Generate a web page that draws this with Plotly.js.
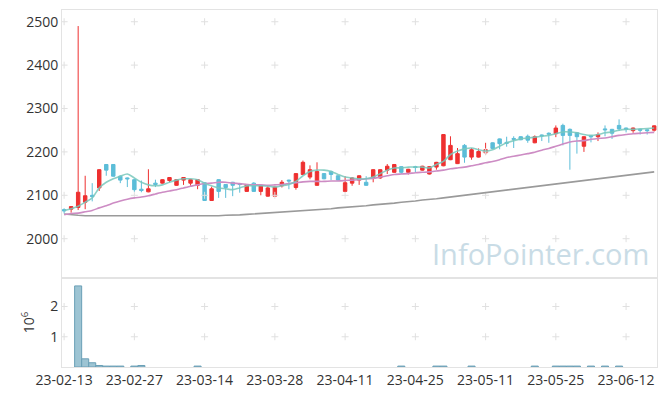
<!DOCTYPE html>
<html><head><meta charset="utf-8">
<script src="https://cdn.plot.ly/plotly-3.0.1.min.js"></script>
<style>html,body{margin:0;padding:0;background:#fff}#c{width:665px;height:396px}</style>
</head><body><div id="c"></div>
<script>
const dates = ['23-02-13','23-02-14','23-02-15','23-02-16','23-02-17','23-02-20','23-02-21','23-02-22','23-02-23','23-02-24',
'23-02-27','23-02-28','23-03-02','23-03-03','23-03-06','23-03-07','23-03-08','23-03-09','23-03-10','23-03-13',
'23-03-14','23-03-15','23-03-16','23-03-17','23-03-20','23-03-21','23-03-22','23-03-23','23-03-24','23-03-27',
'23-03-28','23-03-29','23-03-30','23-03-31','23-04-03','23-04-04','23-04-05','23-04-06','23-04-07','23-04-10',
'23-04-11','23-04-12','23-04-13','23-04-14','23-04-17','23-04-18','23-04-19','23-04-20','23-04-21','23-04-24',
'23-04-25','23-04-26','23-04-27','23-04-28','23-05-02','23-05-03','23-05-04','23-05-08','23-05-09','23-05-10',
'23-05-11','23-05-12','23-05-15','23-05-16','23-05-17','23-05-18','23-05-19','23-05-22','23-05-23','23-05-24',
'23-05-25','23-05-26','23-05-30','23-05-31','23-06-01','23-06-02','23-06-05','23-06-07','23-06-08','23-06-09',
'23-06-12','23-06-13','23-06-14','23-06-15','23-06-16'];

const open  = [2067,2068,2072,2084,2100,2117,2171,2171,2144,2140,2136,2114,2108,2128,2128,2134,2123,2135,2128,2123,
2129,2088,2136,2125,2130,2127,2109,2128,2109,2098,2098,2122,2135,2118,2148,2142,2123,2150,2155,2145,
2109,2128,2135,2130,2141,2140,2158,2153,2166,2153,2166,2158,2149,2165,2168,2182,2173,2215,2188,2188,
2198,2221,2230,2222,2231,2235,2236,2221,2239,2243,2242,2261,2252,2244,2213,2237,2235,2253,2252,2261,
2255,2249,2252,2251,2250];
const high  = [2070,2075,2490,2145,2128,2160,2172,2172,2146,2141,2138,2134,2160,2136,2137,2142,2137,2142,2137,2137,
2130,2120,2137,2126,2131,2128,2126,2130,2125,2122,2120,2135,2136,2151,2180,2169,2176,2151,2157,2146,
2144,2142,2146,2144,2160,2160,2172,2172,2167,2161,2168,2168,2167,2177,2241,2236,2209,2218,2209,2208,
2221,2222,2231,2235,2236,2236,2240,2238,2240,2245,2261,2265,2254,2246,2236,2238,2245,2261,2253,2275,
2256,2256,2253,2252,2261];
const low   = [2058,2060,2066,2068,2086,2110,2145,2143,2128,2119,2108,2107,2107,2119,2127,2130,2122,2124,2122,2114,
2087,2087,2094,2094,2098,2106,2108,2108,2100,2097,2097,2118,2114,2113,2147,2137,2122,2137,2135,2134,
2107,2122,2124,2122,2130,2138,2149,2152,2149,2148,2153,2157,2148,2159,2167,2181,2172,2175,2182,2187,
2193,2207,2206,2212,2209,2227,2221,2220,2225,2221,2234,2215,2159,2196,2200,2222,2225,2236,2230,2248,
2245,2244,2240,2240,2247];
const close = [2064,2074,2107,2099,2097,2159,2158,2144,2135,2138,2113,2111,2115,2125,2136,2141,2136,2141,2136,2136,
2088,2115,2109,2118,2123,2125,2125,2109,2123,2117,2119,2130,2133,2150,2176,2159,2155,2138,2148,2135,
2129,2140,2145,2123,2159,2159,2167,2171,2153,2160,2164,2167,2166,2176,2240,2215,2196,2188,2205,2201,
2205,2208,2219,2220,2229,2228,2227,2235,2237,2241,2255,2238,2238,2235,2235,2235,2240,2251,2243,2253,
2252,2255,2250,2249,2260];

const ma5  = [2065,2069,2075,2084,2094,2117,2130,2138,2144,2149,2140,2130,2124,2122,2124,2130,2135,2138,2138,2136,
2128,2122,2117,2115,2113,2117,2122,2122,2122,2121,2119,2122,2125,2132,2145,2155,2158,2158,2155,2148,
2142,2140,2138,2138,2142,2150,2158,2163,2163,2165,2165,2165,2163,2171,2178,2194,2202,2207,2209,2205,
2202,2205,2213,2221,2226,2230,2232,2234,2236,2238,2242,2246,2246,2244,2240,2238,2240,2244,2246,2250,
2252,2252,2253,2254,2255];
const ma20 = [2055,2058,2059,2062,2065,2071,2076,2082,2087,2091,2094,2096,2099,2103,2107,2110,2113,2117,2121,2124,
2127,2128,2130,2130,2128,2127,2125,2124,2124,2123,2124,2125,2127,2129,2131,2132,2132,2132,2133,2133,
2134,2135,2136,2138,2139,2142,2145,2148,2149,2150,2152,2153,2154,2156,2158,2161,2163,2165,2168,2171,
2175,2178,2182,2187,2190,2193,2196,2199,2204,2208,2213,2218,2223,2225,2226,2229,2231,2232,2235,2238,
2240,2242,2243,2244,2245];
const ma120 = [2057,2055,2054,2053,2053,2052,2052,2052,2052,2052,2052,2052,2052,2052,2052,2052,2052,2052,2052,2052,
2052,2053,2053,2054,2054,2055,2056,2057,2058,2059,2060,2061,2062,2063,2064,2065,2067,2068,2069,2071,
2072,2073,2075,2076,2078,2079,2081,2082,2084,2085,2087,2089,2090,2092,2094,2096,2098,2100,2102,2104,
2106,2108,2110,2112,2114,2116,2118,2120,2122,2124,2126,2128,2130,2132,2134,2136,2138,2140,2142,2144,
2146,2148,2150,2152,2154];

const volume = [0,0,2680000,270000,140000,50000,30000,30000,30000,0,30000,50000,0,0,0,0,0,0,0,30000,
0,0,0,0,0,0,0,0,0,0,0,0,0,0,0,0,0,0,0,0,
0,0,0,0,0,0,0,0,30000,0,0,0,0,30000,30000,0,0,0,30000,0,
0,0,0,0,0,0,0,30000,0,0,30000,30000,30000,30000,0,30000,0,30000,0,30000,
0,0,0,0,0];

const priceTicks = [2000,2100,2200,2300,2400,2500];
const volTicks = [1000000,2000000];
const volTickText = ['1','2'];
const xTickIdx = [0,10,20,30,40,50,60,70,80];
const xTicks = xTickIdx.map(i => dates[i]);

const gridCol = '#e0e0e0';
const font = {family:'"Open Sans", "Noto Sans", sans-serif', size:14, color:'#333'};

const crossX1=[], crossY1=[], crossX2=[], crossY2=[];
xTicks.forEach(x => { priceTicks.forEach(y => {crossX1.push(x); crossY1.push(y);}); volTicks.forEach(y => {crossX2.push(x); crossY2.push(y);}); });

const traces = [
  {type:'scatter', mode:'markers', x:crossX1, y:crossY1, xaxis:'x2', yaxis:'y', hoverinfo:'skip',
   marker:{symbol:'cross-thin-open', size:5, color:gridCol, line:{width:1, color:gridCol}}},
  {type:'scatter', mode:'markers', x:crossX2, y:crossY2, xaxis:'x', yaxis:'y2', hoverinfo:'skip',
   marker:{symbol:'cross-thin-open', size:5, color:gridCol, line:{width:1, color:gridCol}}},
  {type:'scatter', mode:'lines', x:dates, y:ma120, xaxis:'x2', yaxis:'y', hoverinfo:'skip',
   line:{color:'#9a9a9a', width:1.6}},
  {type:'scatter', mode:'lines', x:dates, y:ma20, xaxis:'x2', yaxis:'y', hoverinfo:'skip',
   line:{color:'#cd8cc4', width:1.6, shape:'spline', smoothing:0.6}},
  {type:'candlestick', x:dates, open:open, high:high, low:low, close:close, xaxis:'x2', yaxis:'y',
   increasing:{line:{color:'#ee3030', width:1}, fillcolor:'#ee3030'},
   decreasing:{line:{color:'#5cbdd8', width:1}, fillcolor:'#5cbdd8'},
   whiskerwidth:0, hoverinfo:'skip'},
  {type:'scatter', mode:'lines', x:dates, y:ma5, xaxis:'x2', yaxis:'y', hoverinfo:'skip',
   line:{color:'rgba(120,200,188,0.85)', width:1.6, shape:'spline', smoothing:0.8}},
  {type:'bar', x:dates, y:volume, xaxis:'x', yaxis:'y2', hoverinfo:'skip',
   marker:{color:'#9dc4d3', line:{color:'#6a9fb6', width:volume.map(v => v > 0 ? 1 : 0)}}}
];

const xr = [-0.3, 84.4];
const layout = {
  width:665, height:396, showlegend:false,
  margin:{l:62, r:8, t:10, b:29},
  paper_bgcolor:'#fff', plot_bgcolor:'#fff',
  font:font, bargap:0,
  xaxis:{type:'category', categoryorder:'array', categoryarray:dates, range:xr, anchor:'y2',
    tickmode:'array', tickvals:xTicks, ticktext:xTicks, ticks:'', showgrid:false, zeroline:false,
    showline:true, mirror:true, linecolor:'#e3e3e3', linewidth:1, tickfont:font, rangeslider:{visible:false}},
  xaxis2:{type:'category', categoryorder:'array', categoryarray:dates, range:xr, anchor:'y', matches:'x',
    showticklabels:false, ticks:'', showgrid:false, zeroline:false,
    showline:true, mirror:true, linecolor:'#e3e3e3', linewidth:1, rangeslider:{visible:false}},
  yaxis:{domain:[0.25,1], range:[1910,2527], tickmode:'array', tickvals:priceTicks, showgrid:false, zeroline:false,
    showline:true, mirror:true, linecolor:'#e3e3e3', ticks:'', tickfont:font},
  yaxis2:{domain:[0,0.25], range:[0,2950000], tickmode:'array', tickvals:volTicks, ticktext:volTickText,
    showgrid:false, zeroline:false, showline:true, mirror:true, linecolor:'#e3e3e3', ticks:'', tickfont:font,
    title:{text:'10<sup>6</sup>', font:font, standoff:12}},
  annotations:[{text:'InfoPointer.com', xref:'paper', yref:'paper', x:0.99, y:0.318, xanchor:'right', yanchor:'middle',
    showarrow:false, font:{family:'"Open Sans", sans-serif', size:29, color:'#c9dce6'}}]
};
Plotly.newPlot('c', traces, layout, {staticPlot:true, displayModeBar:false});
</script></body></html>
